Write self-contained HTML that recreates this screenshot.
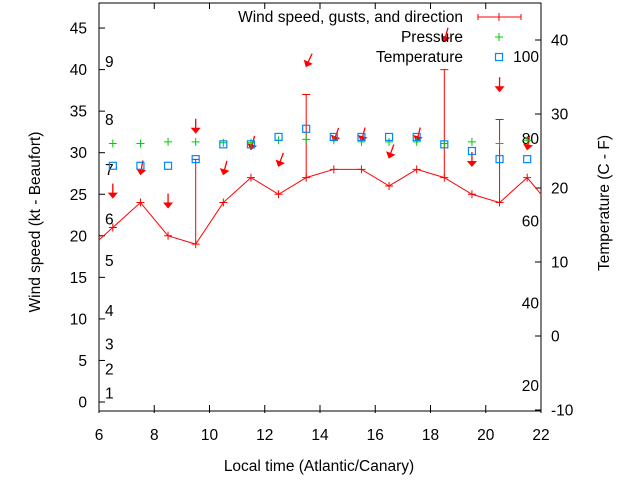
<!DOCTYPE html>
<html><head><meta charset="utf-8"><style>
html,body{margin:0;padding:0;background:#fff}
svg{display:block;font-family:"Liberation Sans",sans-serif;font-size:15.5px}
</style></head><body>
<svg id="chart" width="640" height="480" viewBox="0 0 640 480" xmlns="http://www.w3.org/2000/svg">
<defs><clipPath id="pc"><rect x="99" y="3" width="442" height="408"/></clipPath></defs>
<g id="axes"></g>
<g id="marks" clip-path="url(#pc)"></g>
<g id="legend"></g>
</svg>
<script>
const hours=[6.5,7.5,8.5,9.5,10.5,11.5,12.5,13.5,14.5,15.5,16.5,17.5,18.5,19.5,20.5,21.5];
const windKt=[21,24,20,19,24,27,25,27,28,28,26,28,27,25,24,27];
const windEdgeHours=[5.5,22.5];
const windEdgeKt=[18,23];
const gustKt=[null,null,null,29.2,null,null,null,37,null,null,null,null,40,null,34,null];
const dirDeg=[0,10,0,0,15,15,20,25,20,15,20,15,15,0,0,10];
const arrowKt=[24.6,27.4,23.4,32.4,27.4,30.4,28.4,40.4,31.4,31.4,29.4,31.4,43.4,28.4,37.4,30.4];
const pressure=[31.1,31.1,31.3,31.3,31.2,31.2,31.5,31.6,31.5,31.3,31.3,31.3,31.1,31.3,31.1,31.5];
const tempC=[23,23,23,23.9,25.9,25.9,26.9,28,26.9,26.9,26.9,26.9,25.9,25,23.9,23.9];
const leftTicks=[0,5,10,15,20,25,30,35,40,45];
const rightTicks=[-10,0,10,20,30,40];
const xTicks=[6,8,10,12,14,16,18,20,22];
const beaufortKt=[1.1,4,7,11,17,22,28,34,41];
const beaufortLbl=["1","2","3","4","5","6","7","8","9"];
const fahrenheit=[20,40,60,80,100];

const X0=99,X1=541,YT=3,YB=411;
const xs=h=>X0+(h-6)/(22-6)*(X1-X0);
const yl=v=>402-v*8.31;
const yr=c=>336-c*7.4;
const NS="http://www.w3.org/2000/svg";
function mk(parent,tag,attrs,text){const e=document.createElementNS(NS,tag);for(const k in attrs)e.setAttribute(k,attrs[k]);if(text!==undefined)e.textContent=text;parent.appendChild(e);return e;}
const axes=document.getElementById('axes'),marks=document.getElementById('marks'),leg=document.getElementById('legend');

let e=mk(axes,'rect',{x:X0,y:YT,width:X1-X0,height:YB-YT,fill:'none',stroke:'#000','stroke-width':1});

leftTicks.forEach(v=>{const y=yl(v);
 e=mk(axes,'line',{x1:X0,x2:X0+6,y1:y,y2:y,stroke:'#000'});
 e=mk(axes,'text',{x:X0-12,y:y+5.5,'text-anchor':'end'},String(v));});
rightTicks.forEach(v=>{const y=yr(v);
 e=mk(axes,'line',{x1:X1-6,x2:X1,y1:y,y2:y,stroke:'#000'});
 e=mk(axes,'text',{x:X1+10,y:y+5.5,'text-anchor':'start'},String(v));});
xTicks.forEach(v=>{const x=xs(v);
 e=mk(axes,'line',{x1:x,x2:x,y1:YB-6,y2:YB+2,stroke:'#000'});
 e=mk(axes,'line',{x1:x,x2:x,y1:YT,y2:YT+6,stroke:'#000'});
 e=mk(axes,'text',{x:x,y:440,'text-anchor':'middle'},String(v));});
beaufortKt.forEach((v,i)=>{e=mk(axes,'text',{x:105,y:yl(v)+5.5},beaufortLbl[i]);});
fahrenheit.forEach(f=>{e=mk(axes,'text',{x:539,y:yr((f-32)*5/9)+5.5,'text-anchor':'end'},String(f));});
e=mk(axes,'text',{x:319,y:471,'text-anchor':'middle'},'Local time (Atlantic/Canary)');
e=mk(axes,'text',{x:40,y:222,'text-anchor':'middle',transform:'rotate(-90 40 222)'},'Wind speed (kt - Beaufort)');
e=mk(axes,'text',{x:609,y:203,'text-anchor':'middle',transform:'rotate(-90 609 203)'},'Temperature (C - F)');

const pts=hours.map((h,i)=>[xs(h),yl(windKt[i])]);
const first=[xs(windEdgeHours[0]),yl(windEdgeKt[0])],last=[xs(windEdgeHours[1]),yl(windEdgeKt[1])];
e=mk(marks,'polyline',{points:[first,...pts,last].map(p=>p.join(',')).join(' '),fill:'none',stroke:'#f00','stroke-width':1});

hours.forEach((h,i)=>{const x=xs(h),y=yl(windKt[i]);
 e=mk(marks,'path',{d:`M${x-4},${y}H${x+4}M${x},${y-4}V${y+4}`,stroke:'#f00','stroke-width':1});
 if(gustKt[i]!==null){const g=yl(gustKt[i]);
  e=mk(marks,'path',{d:`M${x},${y}V${g}M${x-4},${g}H${x+4}`,stroke:'#f00','stroke-width':1});}
 const ay=yl(arrowKt[i]);
 const g=mk(marks,'g',{transform:`translate(${x},${ay}) rotate(${dirDeg[i]})`});
 
 mk(g,'line',{x1:0,y1:-14,x2:0,y2:0,stroke:'#f00','stroke-width':1.3});
 mk(g,'path',{d:'M-5,-5L5,-5L0,1Z',fill:'#f00'});
 const py=yl(pressure[i]);
 e=mk(marks,'path',{d:`M${x-4},${py}H${x+4}M${x},${py-4}V${py+4}`,stroke:'#0c0','stroke-width':1});
 const ty2=yr(tempC[i]);
 e=mk(marks,'rect',{x:x-3.5,y:ty2-3.5,width:7,height:7,fill:'none',stroke:'#08f','stroke-width':1.2});
});

e=mk(leg,'text',{x:463,y:22,'text-anchor':'end'},'Wind speed, gusts, and direction');
e=mk(leg,'path',{d:'M478,17H521M478,14V20M521,14V20M499,13V21',stroke:'#f00'});
e=mk(leg,'text',{x:463,y:42,'text-anchor':'end'},'Pressure');
e=mk(leg,'path',{d:'M495,37H503M499,33V41',stroke:'#0c0'});
e=mk(leg,'text',{x:463,y:62,'text-anchor':'end'},'Temperature');
e=mk(leg,'rect',{x:495.5,y:53.5,width:7,height:7,fill:'none',stroke:'#08f','stroke-width':1.2});
</script>
</body></html>
